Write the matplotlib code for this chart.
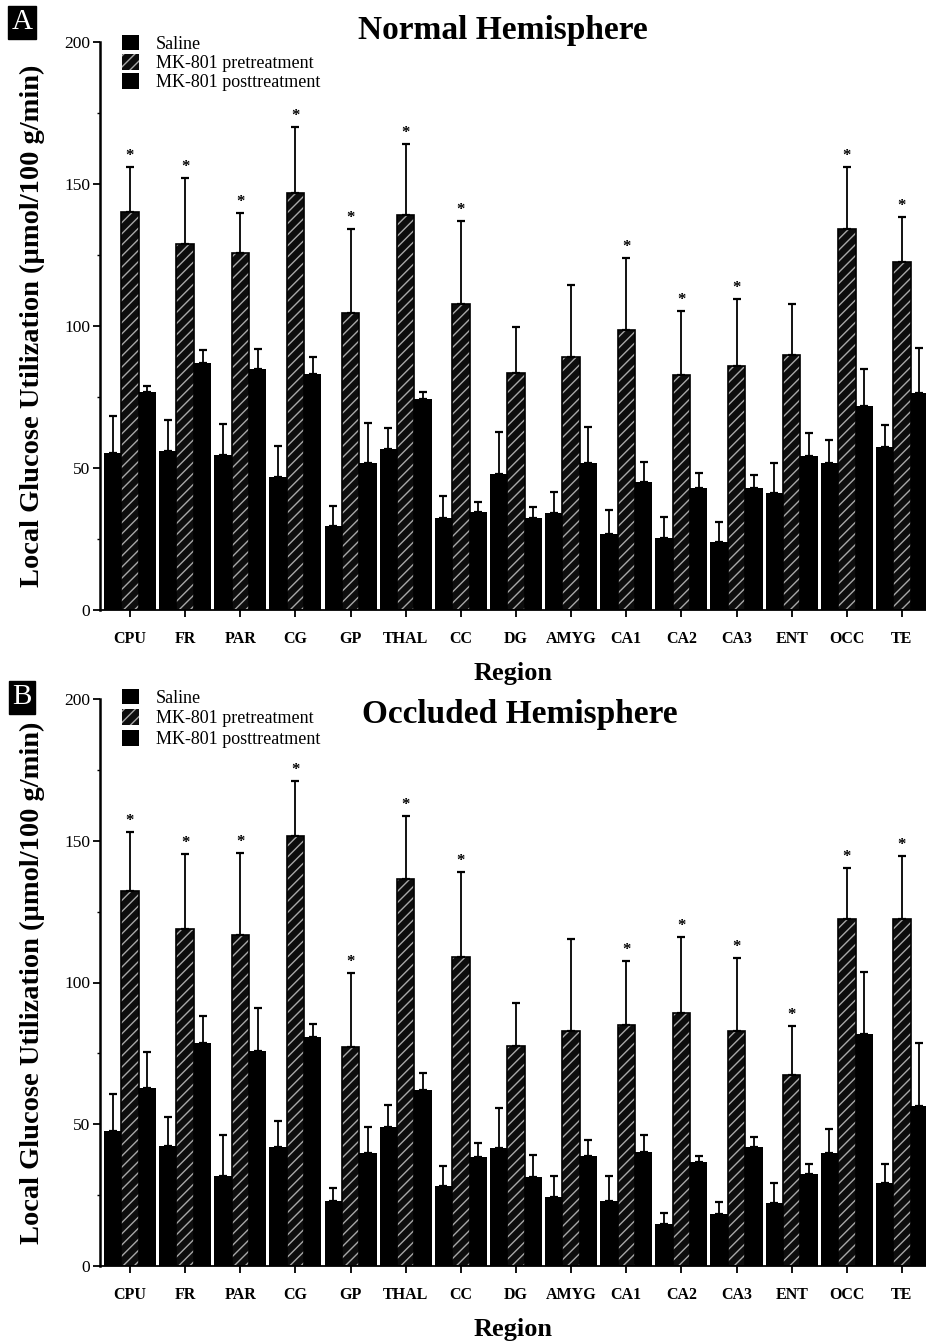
import matplotlib
matplotlib.use("Agg")
import matplotlib.pyplot as plt
import numpy as np
from matplotlib.ticker import MultipleLocator

plt.rcParams["font.family"] = ["Liberation Serif", "DejaVu Serif"]
plt.rcParams["hatch.linewidth"] = 1.0

REGIONS = ["CPU", "FR", "PAR", "CG", "GP", "THAL", "CC", "DG", "AMYG",
           "CA1", "CA2", "CA3", "ENT", "OCC", "TE"]
LEGEND = ["Saline", "MK-801 pretreatment", "MK-801 posttreatment"]

# panel A - normal hemisphere (means and upward SEM)
saline_a = [55.3, 56, 54.6, 47, 29.6, 56.7, 32.4, 48, 34.2, 26.8, 25.3, 24, 41.2, 51.8, 57.4]
saline_a_err = [13, 11, 10.9, 10.7, 7, 7.3, 7.6, 14.7, 7.4, 8.4, 7.5, 7, 10.6, 8.1, 7.7]
pre_a = [140, 129, 125.7, 147, 104.5, 139, 107.7, 83.5, 89, 98.6, 82.7, 86, 89.8, 134, 122.5]
pre_a_err = [16, 23, 14.1, 23, 29.5, 25, 29.3, 16.1, 25.4, 25.4, 22.6, 23.5, 17.9, 22, 15.9]
post_a = [76.8, 87, 85, 83, 51.8, 74.3, 34.5, 32.4, 51.7, 45, 43, 43, 54.2, 71.8, 76.4]
post_a_err = [2.2, 4.5, 7, 6, 14.2, 2.5, 3.5, 3.9, 12.8, 7, 5.2, 4.5, 8.1, 13.1, 15.8]
sig_a = [1, 1, 1, 1, 1, 1, 1, 0, 0, 1, 1, 1, 0, 1, 1]

# panel B - occluded hemisphere
saline_b = [47.6, 42.3, 31.7, 42, 22.9, 49, 28.2, 41.6, 24.4, 22.9, 14.8, 18.3, 22.2, 40, 29.3]
saline_b_err = [13.1, 10.3, 14.5, 9.1, 4.7, 7.8, 7.1, 14.1, 7.3, 8.9, 4, 4.2, 7.1, 8.4, 6.7]
pre_b = [132.3, 118.9, 116.8, 151.7, 77.1, 136.5, 109, 77.6, 83, 85, 89.3, 83, 67.4, 122.4, 122.4]
pre_b_err = [20.7, 26.4, 28.9, 19.3, 26.2, 22.2, 30, 15.2, 32.3, 22.6, 26.7, 25.6, 17.3, 18, 22.2]
post_b = [62.8, 78.7, 76, 80.8, 40, 62, 38.4, 31.4, 38.8, 40.2, 36.8, 41.9, 32.5, 82, 56.4]
post_b_err = [12.7, 9.5, 15, 4.5, 9, 6, 4.9, 7.6, 5.6, 6.1, 1.9, 3.5, 3.5, 21.7, 22.3]
sig_b = [1, 1, 1, 1, 1, 1, 1, 0, 0, 1, 1, 1, 1, 1, 1]

W = 926
H = 1341
ERR_KW = dict(ecolor="black", elinewidth=1.3, capsize=3.2, capthick=1.6)


def draw_panel(ax, saline, saline_err, pre, pre_err, post, post_err, sig, legend_y, legend_sp):
    x = np.arange(len(REGIONS))
    w = 0.315
    zero = np.zeros(len(REGIONS))
    b1 = ax.bar(x - w, saline, w, color="black", linewidth=0,
                yerr=[zero, saline_err], error_kw=ERR_KW)
    b2 = ax.bar(x, pre, w, facecolor="#0d0d0d", edgecolor="#a8a8a8", linewidth=0,
                hatch="///", yerr=[zero, pre_err], error_kw=ERR_KW)
    # dark outline round the hatched bars
    ax.bar(x, pre, w, fill=False, edgecolor="black", linewidth=1.2)
    b3 = ax.bar(x + w, post, w, color="black", linewidth=0,
                yerr=[zero, post_err], error_kw=ERR_KW)
    for i, s in enumerate(sig):
        if s:
            ax.text(x[i], pre[i] + pre_err[i] + 2.5, "*", ha="center",
                    va="baseline", fontsize=12, fontweight="bold")

    ax.set_xlim(-0.544, 14.436)
    ax.set_ylim(0, 200)
    ax.set_xticks(x)
    ax.set_xticklabels(REGIONS, fontsize=11.5, fontweight="bold")
    ax.yaxis.set_major_locator(MultipleLocator(50))
    ax.yaxis.set_minor_locator(MultipleLocator(25))
    ax.tick_params(axis="y", labelsize=12.5, length=5, width=1.3, pad=2)
    ax.tick_params(axis="y", which="minor", length=2, width=1)
    ax.tick_params(axis="x", length=5, width=1.3, pad=10)
    ax.spines[["top", "right"]].set_visible(False)
    ax.spines["left"].set_linewidth(1.8)
    ax.spines["bottom"].set_linewidth(1.3)
    ax.set_xlabel("Region", fontsize=19, fontweight="bold", labelpad=11)
    ax.set_ylabel("Local Glucose Utilization (\u00b5mol/100 g/min)",
                  fontsize=20.5, fontweight="bold")
    ax.yaxis.set_label_coords(-0.066, 0.5)
    ax.legend([b1, b2, b3], LEGEND, loc="upper left", bbox_to_anchor=(0.027, legend_y),
              frameon=False, fontsize=13, handlelength=0.95, handleheight=0.95,
              handletextpad=0.9, labelspacing=legend_sp, borderpad=0, borderaxespad=0)


fig = plt.figure(figsize=(W / 100, H / 100), dpi=100)

ax_a = fig.add_axes([100 / W, 1 - 610 / H, 826 / W, 568 / H])
draw_panel(ax_a, saline_a, saline_a_err, pre_a, pre_a_err, post_a, post_a_err, sig_a,
           1.013, 0.08)
fig.text(503 / W, 1 - 30 / H, "Normal Hemisphere", ha="center", va="center",
         fontsize=24, fontweight="bold")

ax_b = fig.add_axes([100 / W, 1 - 1266 / H, 826 / W, 567 / H])
draw_panel(ax_b, saline_b, saline_b_err, pre_b, pre_b_err, post_b, post_b_err, sig_b,
           1.018, 0.15)
fig.text(520 / W, 1 - 714 / H, "Occluded Hemisphere", ha="center", va="center",
         fontsize=24, fontweight="bold")

for label, ypix in (("A", 22), ("B", 697)):
    fig.text(22 / W, 1 - ypix / H, label, ha="center", va="center", fontsize=21,
             color="white", bbox=dict(facecolor="black", edgecolor="black", pad=2.5))

fig.savefig("out.png", dpi=100)
